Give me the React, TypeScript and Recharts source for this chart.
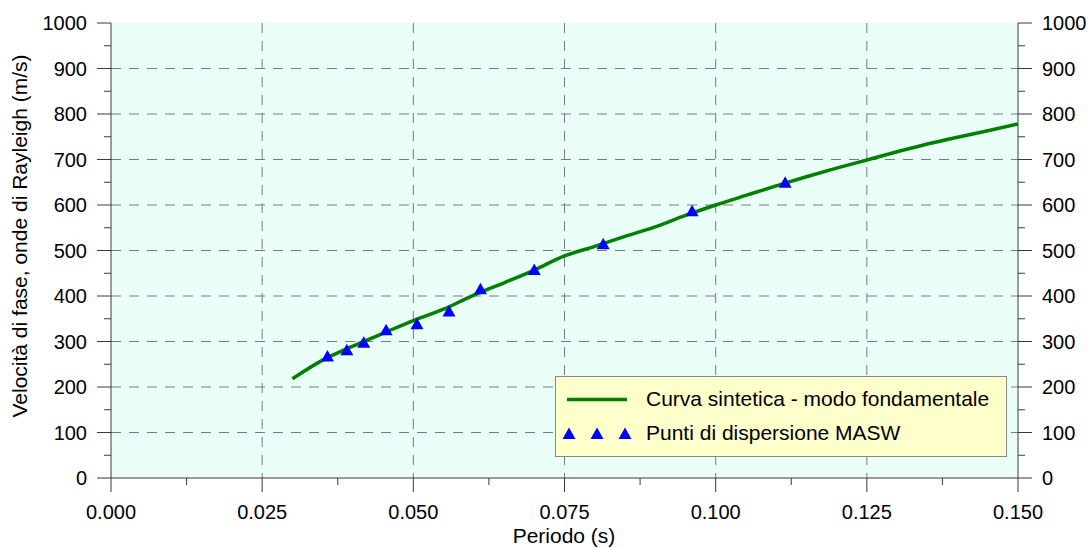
import * as React from "react";
import { ComposedChart, Line, Scatter, XAxis, YAxis, CartesianGrid } from "recharts";

// synthetic dispersion curve (fundamental mode)
const curvePeriod = [
  0.03, 0.035, 0.04, 0.045, 0.05, 0.055, 0.06, 0.065, 0.07, 0.075, 0.08, 0.085, 0.09,
  0.095, 0.1, 0.105, 0.11, 0.115, 0.12, 0.125, 0.13, 0.135, 0.14, 0.145, 0.15,
];
const curveVelocity = [
  218, 259, 290, 318, 346, 371, 402, 429, 457, 488, 509, 531, 552,
  577, 600, 621, 642, 662, 681, 699, 717, 734, 749, 763, 778,
];

// MASW dispersion points
const maswPeriod = [0.0358, 0.039, 0.0418, 0.0455, 0.0506, 0.0559, 0.0611, 0.07, 0.0814, 0.0961, 0.1115];
const maswVelocity = [267, 281, 297, 325, 338, 366, 415, 457, 514, 586, 649];

const xTicks = [0, 0.0125, 0.025, 0.0375, 0.05, 0.0625, 0.075, 0.0875, 0.1, 0.1125, 0.125, 0.1375, 0.15];
const xGrid = [0.025, 0.05, 0.075, 0.1, 0.125];
const yTicks = [0, 50, 100, 150, 200, 250, 300, 350, 400, 450, 500, 550, 600, 650, 700, 750, 800, 850, 900, 950, 1000];
const yGrid = [100, 200, 300, 400, 500, 600, 700, 800, 900];

const curveData = curvePeriod.map((p, i) => ({ p, v: curveVelocity[i] }));
const maswData = maswPeriod.map((p, i) => ({ p, v: maswVelocity[i] }));

const FONT = '"Liberation Sans", Arial, sans-serif';
const AXIS = "#3a3a3a";
const W = 1089;
const H = 548;

const isMajor = (v: number, step: number) => Math.abs(v / step - Math.round(v / step)) < 1e-6;

function XTick({ x, y, payload, top }: any) {
  const major = isMajor(payload.value, 0.025);
  const len = major ? 14 : 7;
  const dir = top ? -1 : 1;
  return (
    <g>
      <line x1={x} x2={x} y1={y} y2={y + dir * len} stroke={AXIS} strokeWidth={1} />
      {major && !top && (
        <text x={x} y={y + 41} textAnchor="middle" fontSize={20} fontFamily={FONT} fill="#000">
          {payload.value.toFixed(3)}
        </text>
      )}
    </g>
  );
}

function YTick({ x, y, payload, right }: any) {
  const major = isMajor(payload.value, 100);
  const len = major ? 14 : 7;
  const dir = right ? 1 : -1;
  return (
    <g>
      <line x1={x} x2={x + dir * len} y1={y} y2={y} stroke={AXIS} strokeWidth={1} />
      {major && (
        <text
          x={x + dir * 24}
          y={y + 7}
          textAnchor={right ? "start" : "end"}
          fontSize={20}
          fontFamily={FONT}
          fill="#000"
        >
          {payload.value}
        </text>
      )}
    </g>
  );
}

function Triangle({ cx, cy }: any) {
  return <polygon points={`${cx},${cy - 6.5} ${cx - 6.5},${cy + 5} ${cx + 6.5},${cy + 5}`} fill="#0000ff" />;
}

export default function App() {
  return (
    <div style={{ position: "absolute", left: 0, top: 0, width: W, height: H, background: "#fff", fontFamily: FONT }}>
      <ComposedChart width={W} height={H} margin={{ top: 23, right: 0, bottom: 0, left: 0 }}>
        <CartesianGrid
          xAxisId="b"
          yAxisId="l"
          fill="#eafff7"
          stroke="#7a7a7a"
          strokeDasharray="10 8"
          horizontalValues={yGrid}
          verticalValues={xGrid}
        />
        <XAxis
          xAxisId="b"
          type="number"
          dataKey="p"
          domain={[0, 0.15]}
          ticks={xTicks}
          interval={0}
          allowDataOverflow
          height={70}
          tickSize={0}
          tickMargin={0}
          tickLine={false}
          axisLine={{ stroke: AXIS }}
          tick={<XTick />}
        />
        <XAxis
          xAxisId="t"
          orientation="top"
          type="number"
          domain={[0, 0.15]}
          ticks={xTicks}
          interval={0}
          allowDataOverflow
          height={0}
          tickSize={0}
          tickMargin={0}
          tickLine={false}
          axisLine={{ stroke: AXIS }}
          tick={<XTick top />}
        />
        <YAxis
          yAxisId="l"
          type="number"
          domain={[0, 1000]}
          ticks={yTicks}
          interval={0}
          allowDataOverflow
          width={111}
          tickSize={0}
          tickMargin={0}
          tickLine={false}
          axisLine={{ stroke: AXIS }}
          tick={<YTick />}
        />
        <YAxis
          yAxisId="r"
          orientation="right"
          type="number"
          domain={[0, 1000]}
          ticks={yTicks}
          interval={0}
          allowDataOverflow
          width={71}
          tickSize={0}
          tickMargin={0}
          tickLine={false}
          axisLine={{ stroke: AXIS }}
          tick={<YTick right />}
        />
        <Line
          xAxisId="b"
          yAxisId="l"
          data={curveData}
          dataKey="v"
          type="monotone"
          stroke="#008000"
          strokeWidth={3.5}
          dot={false}
          activeDot={false}
          isAnimationActive={false}
        />
        <Scatter
          xAxisId="b"
          yAxisId="l"
          data={maswData}
          dataKey="v"
          shape={<Triangle />}
          isAnimationActive={false}
        />
      </ComposedChart>
      <svg width={W} height={H} style={{ position: "absolute", left: 0, top: 0, pointerEvents: "none" }}>
        <text x={564} y={543} textAnchor="middle" fontSize={21} fontFamily={FONT} fill="#000">
          Periodo (s)
        </text>
        <text
          x={0}
          y={0}
          transform="translate(27,236) rotate(-90)"
          textAnchor="middle"
          fontSize={21}
          fontFamily={FONT}
          fill="#000"
        >
          Velocità di fase, onde di Rayleigh (m/s)
        </text>
        <rect x={555.5} y={376.5} width={451} height={80} fill="#ffffcc" stroke="#8a8a8a" strokeWidth={1} />
        <line x1={567} x2={627} y1={399.5} y2={399.5} stroke="#008000" strokeWidth={3.5} />
        {[569, 597, 625].map((cx) => (
          <Triangle key={cx} cx={cx} cy={434} />
        ))}
        <text x={646} y={406} fontSize={21} fontFamily={FONT} fill="#000">
          Curva sintetica - modo fondamentale
        </text>
        <text x={646} y={440} fontSize={21} fontFamily={FONT} fill="#000">
          Punti di dispersione MASW
        </text>
      </svg>
    </div>
  );
}
